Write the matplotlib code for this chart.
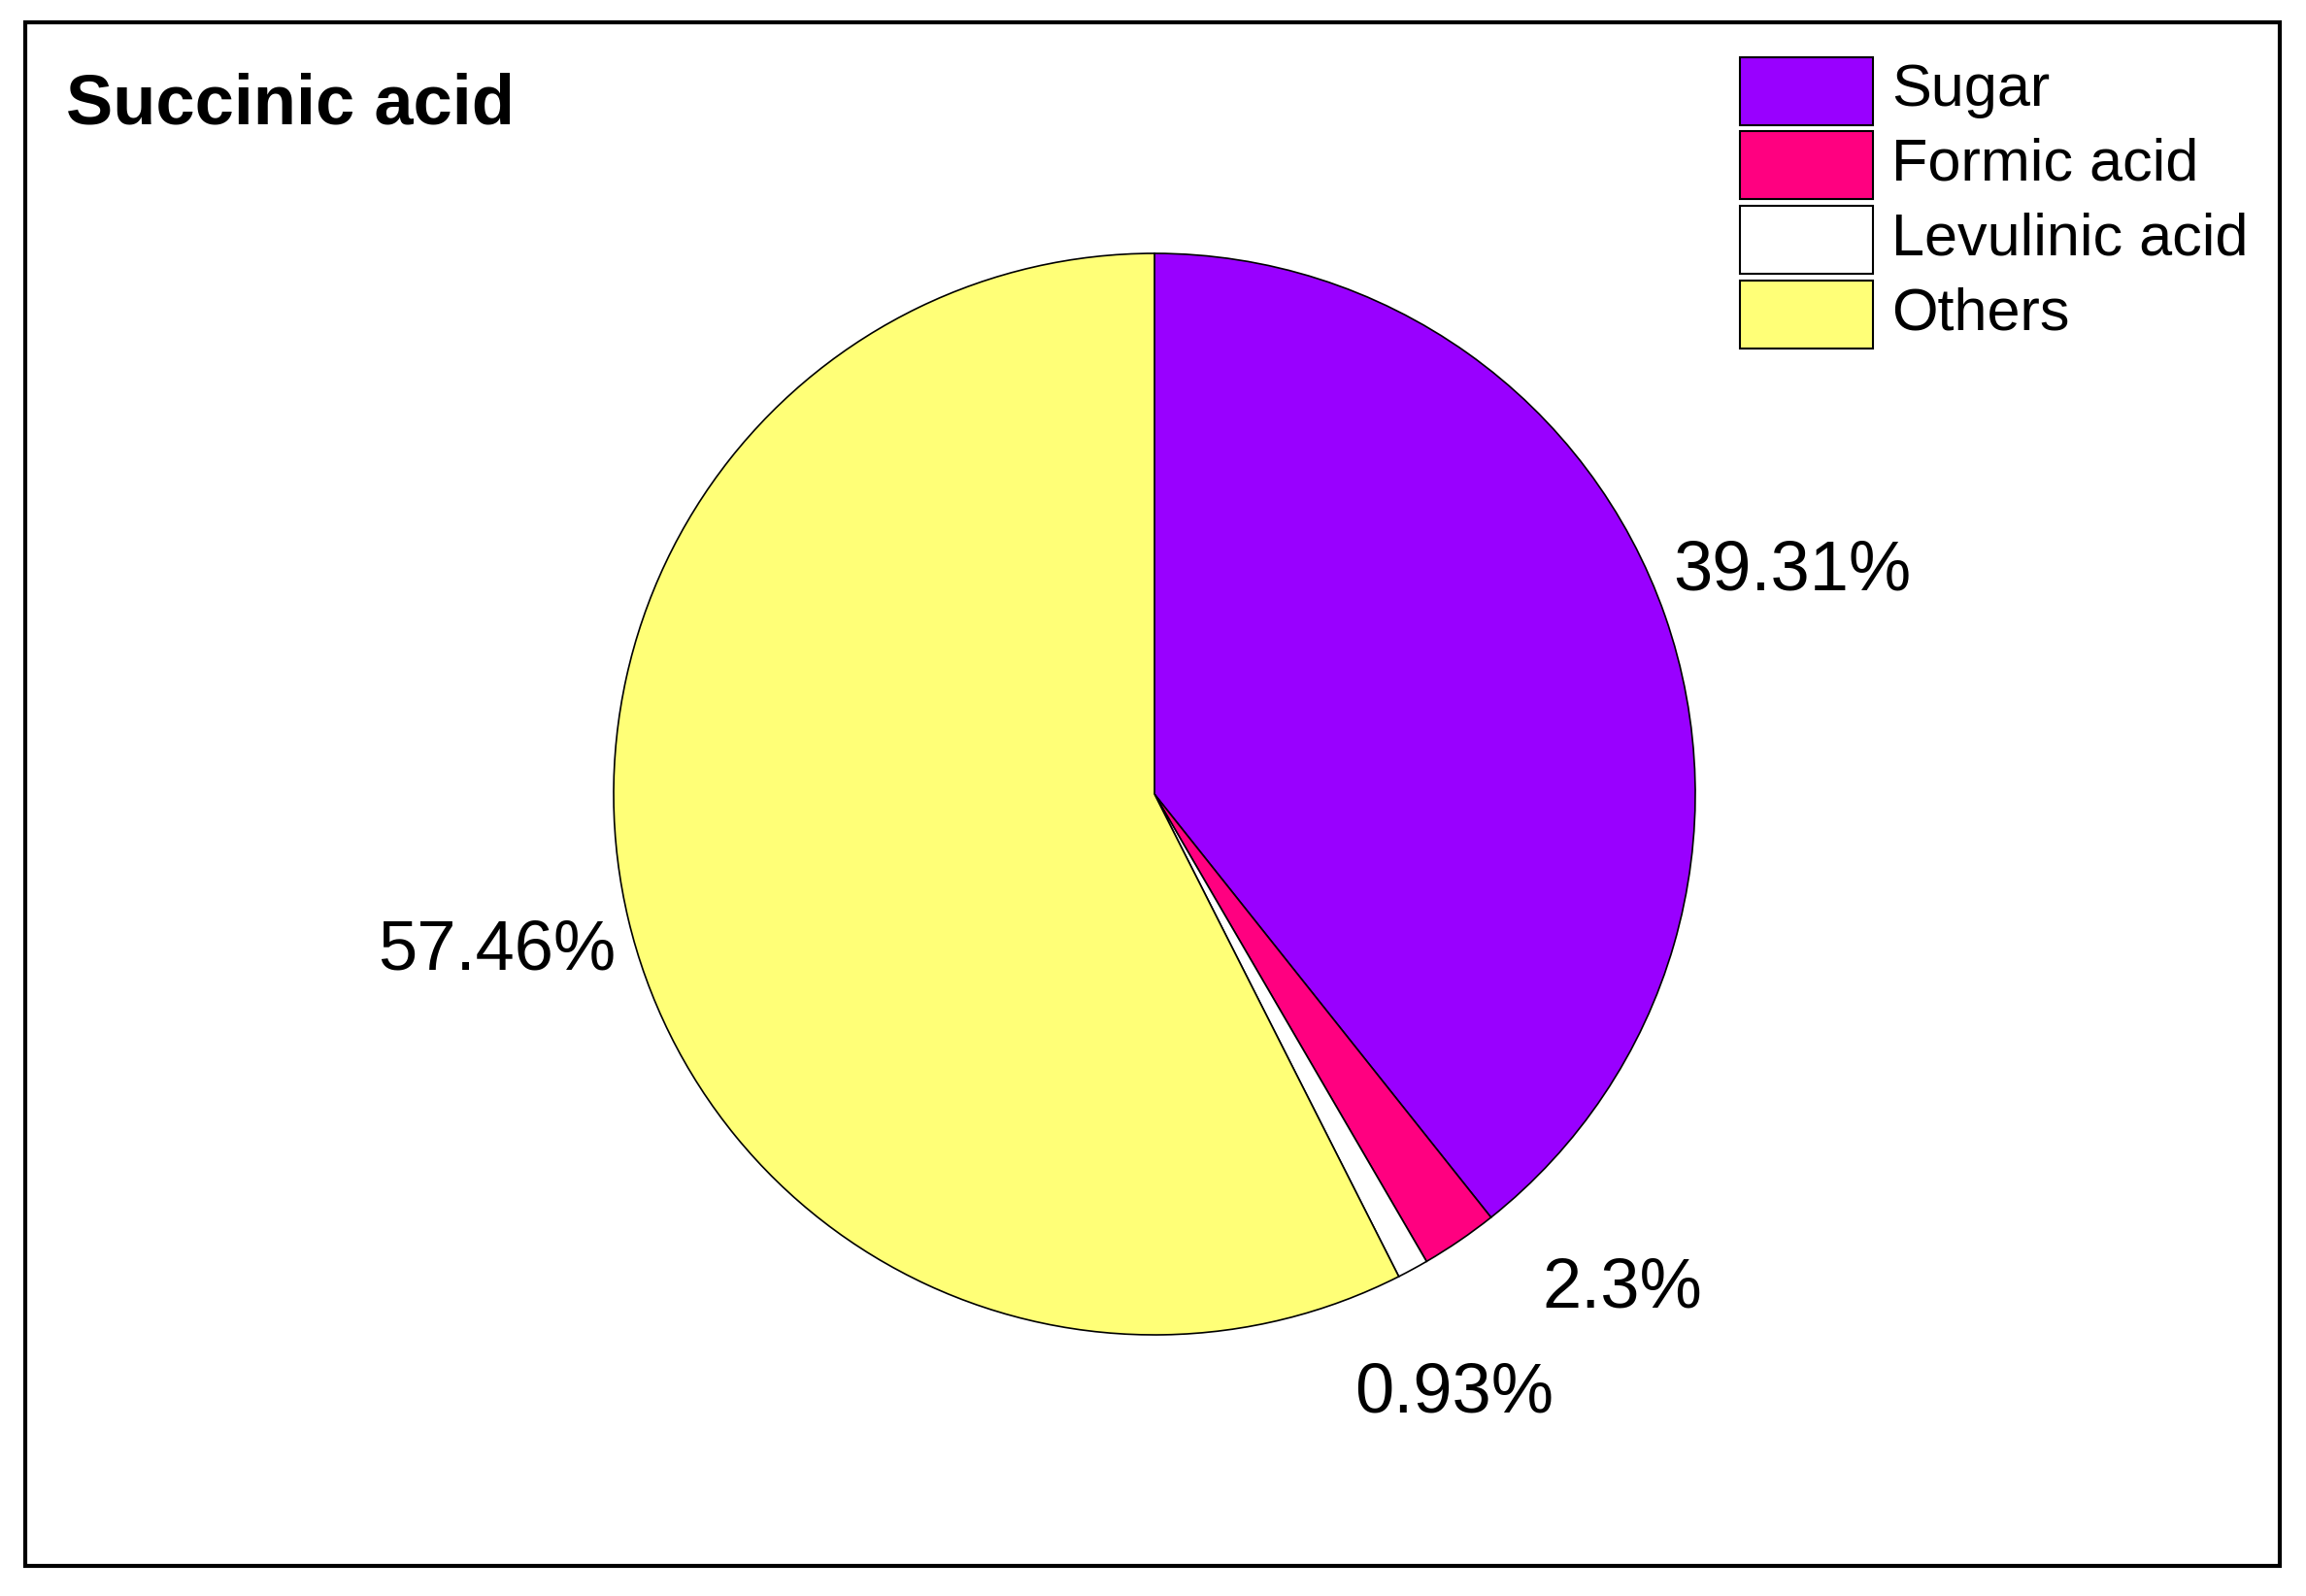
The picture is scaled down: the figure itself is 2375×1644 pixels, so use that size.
import matplotlib
matplotlib.use("Agg")
import matplotlib.pyplot as plt
from matplotlib.patches import Rectangle
import numpy as np

categories = ["Sugar", "Formic acid", "Levulinic acid", "Others"]
values = [39.31, 2.3, 0.93, 57.46]
pct_labels = ["39.31%", "2.3%", "0.93%", "57.46%"]
colors = ["#9900FF", "#FF0080", "#FFFFFF", "#FFFF77"]
title = "Succinic acid"

W, H = 2375, 1644
fig = plt.figure(figsize=(W/100, H/100), dpi=100)
ax = fig.add_axes([0, 0, 1, 1])
ax.set_xlim(0, W); ax.set_ylim(0, H); ax.set_aspect("equal"); ax.axis("off")
plt.rcParams['font.family'] = ['Liberation Sans', 'DejaVu Sans']

ax.add_patch(Rectangle((26, 31), 2322, 1590, fill=False, lw=3, ec="black"))

cx, cy, R = 1189, 826, 557
wedges, texts = ax.pie(values, colors=colors, startangle=90, counterclock=False,
                       center=(cx, cy), radius=R, labels=pct_labels,
                       labeldistance=1.25,
                       wedgeprops=dict(edgecolor="black", linewidth=1.2),
                       textprops=dict(fontsize=52, family="Liberation Sans"))
ang_shift = [0, 9, -2, 0]
dist = [1.25, 1.26, 1.24, 1.25]
for w, t, s, d in zip(wedges, texts, ang_shift, dist):
    a = np.deg2rad((w.theta1 + w.theta2) / 2 + s)
    t.set_position((cx + d * R * np.cos(a), cy + d * R * np.sin(a)))
    t.set_ha("center"); t.set_va("center")
ax.set_xlim(0, W); ax.set_ylim(0, H)

ax.text(68, 1535, title, fontsize=52, fontweight="bold", ha="left", va="center")

ys = [1550, 1474, 1397, 1320]
for name, c, y in zip(categories, colors, ys):
    ax.add_patch(Rectangle((1792, y - 35), 137, 70, fc=c, ec="black", lw=1.5))
    ax.text(1948, y, name, fontsize=44, ha="left", va="center")

fig.savefig("out.png", dpi=100)
